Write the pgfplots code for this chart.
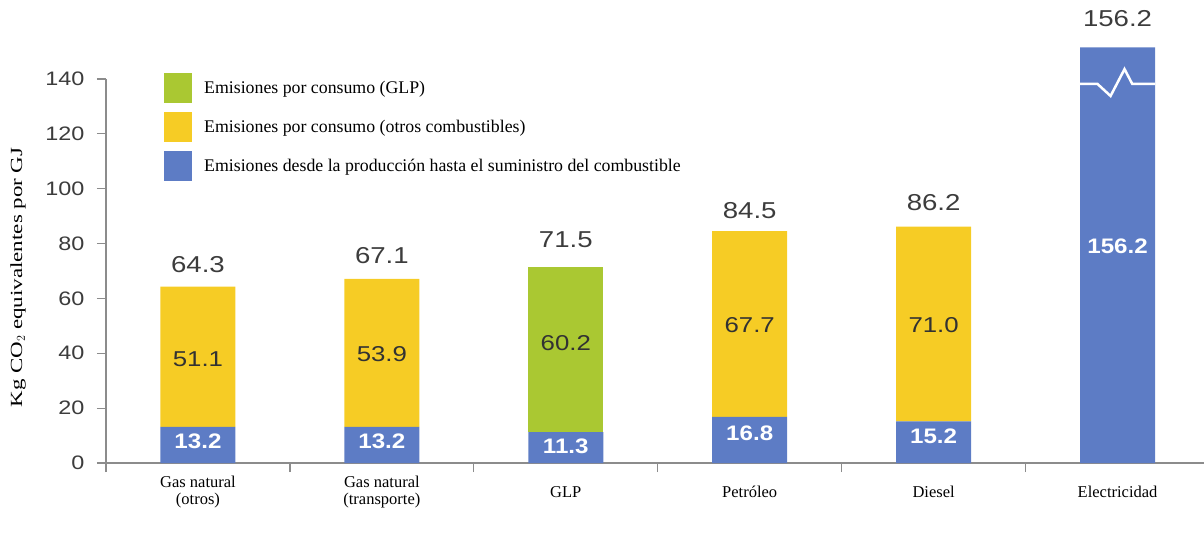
\documentclass[border=0pt]{standalone}
\usepackage{pgfplots}
\pgfplotsset{compat=1.18}
\usepackage{fontspec}
\setmainfont{Liberation Serif}
\newfontfamily\numfont[FakeStretch=1.2]{Liberation Sans}
\newfontfamily\numbold[FakeStretch=1.15]{Liberation Sans Bold}
\newfontfamily\labfont[FakeStretch=1.35]{Liberation Serif}
\definecolor{cblue}{RGB}{93,124,197}
\definecolor{cyellow}{RGB}{246,204,37}
\definecolor{cgreen}{RGB}{170,200,50}
\definecolor{axgray}{RGB}{140,140,140}
\definecolor{txtgray}{RGB}{60,60,60}
\definecolor{intxt}{RGB}{50,50,50}
\tikzset{
  inblue/.style={font=\numbold\fontsize{21}{23}\selectfont, text=white},
  inyel/.style={font=\numfont\fontsize{21.5}{23}\selectfont, text=intxt},
  total/.style={font=\numfont\fontsize{23}{25}\selectfont, text=txtgray},
}
\begin{document}
\begin{tikzpicture}
\useasboundingbox (-106pt,-83pt) rectangle (1098pt,463pt);
\begin{axis}[
  at={(0pt,0pt)}, anchor=south west,
  scale only axis, width=1098pt, height=384pt,
  xmin=-0.5, xmax=5.47, ymin=0, ymax=140,
  clip=false,
  axis x line=bottom, axis y line=left,
  axis line style={-, draw=axgray, line width=1.4pt},
  ybar stacked, bar width=75pt,
  ytick={0,20,...,140}, yticklabels={0,20,40,60,80,100,120,140},
  yticklabel style={font=\numfont\fontsize{19.5}{21}\selectfont, text=txtgray, xshift=-9pt},
  tick align=outside, major tick length=9pt,
  tick style={draw=axgray, line width=1.2pt},
  xtick={-0.5,0.5,1.5,2.5,3.5,4.5}, xticklabels={,,,,,},
  extra x ticks={0,1,2,3,4,5},
  extra x tick labels={{Gas natural\\(otros)},{Gas natural\\(transporte)},GLP,Petróleo,Diesel,Electricidad},
  extra x tick style={tick style={draw=none}},
  xticklabel style={font=\fontsize{16.5}{16.5}\selectfont, align=center, anchor=center, yshift=-20pt},
  every axis y label/.style={at={(axis description cs:-0.080,0.483)}, rotate=90, anchor=center},
  ylabel={\labfont\fontsize{17}{18}\selectfont Kg CO$_2$ equivalentes por GJ},
  reverse legend,
  legend cell align=left,
  legend style={at={(axis description cs:0.0528,1.0156)}, anchor=north west, draw=none, fill=none,
    font=\fontsize{17.8}{19}\selectfont, row sep=9pt, column sep=12pt, inner sep=0pt,
    nodes={inner sep=0pt}},
  legend image code/.code={\fill[#1,draw=none] (0pt,-15pt) rectangle (28pt,15pt);},
]
% Electricity bar (156.2) is drawn truncated at 151.5 with a break mark, as in the original
\addplot[fill=cblue, draw=none] coordinates {(0,13.2) (1,13.2) (2,11.3) (3,16.8) (4,15.2) (5,151.5)};
\addplot[fill=cyellow, draw=none] coordinates {(0,51.1) (1,53.9) (2,0) (3,67.7) (4,71.0) (5,0)};
\addplot[fill=cgreen, draw=none] coordinates {(0,0) (1,0) (2,60.2) (3,0) (4,0) (5,0)};
\legend{Emisiones desde la producción hasta el suministro del combustible, Emisiones por consumo (otros combustibles), Emisiones por consumo (GLP)}

\coordinate (k1) at (axis cs:4.796,138.2);
\coordinate (k2) at (axis cs:4.891,138.2);
\coordinate (k3) at (axis cs:4.962,133.8);
\coordinate (k4) at (axis cs:5.038,143.6);
\coordinate (k5) at (axis cs:5.08,138.2);
\coordinate (k6) at (axis cs:5.204,138.2);
\coordinate (b0) at (axis cs:0,8.0);
\coordinate (b1) at (axis cs:1,8.0);
\coordinate (b2) at (axis cs:2,6.2);
\coordinate (b3) at (axis cs:3,10.9);
\coordinate (b4) at (axis cs:4,9.8);
\coordinate (b5) at (axis cs:5,79.1);
\coordinate (y0) at (axis cs:0,37.9);
\coordinate (y1) at (axis cs:1,39.7);
\coordinate (y2) at (axis cs:2,43.7);
\coordinate (y3) at (axis cs:3,50.3);
\coordinate (y4) at (axis cs:4,50.3);
\coordinate (t0) at (axis cs:0,72.4);
\coordinate (t1) at (axis cs:1,75.8);
\coordinate (t2) at (axis cs:2,81.3);
\coordinate (t3) at (axis cs:3,92.2);
\coordinate (t4) at (axis cs:4,94.8);
\coordinate (t5) at (axis cs:5,162.2);
\end{axis}
\draw[white, line width=2.5pt] (k1) -- (k2) -- (k3) -- (k4) -- (k5) -- (k6);
\node[inblue] at (b0) {13.2};
\node[inblue] at (b1) {13.2};
\node[inblue] at (b2) {11.3};
\node[inblue] at (b3) {16.8};
\node[inblue] at (b4) {15.2};
\node[inblue] at (b5) {156.2};
\node[inyel] at (y0) {51.1};
\node[inyel] at (y1) {53.9};
\node[inyel] at (y2) {60.2};
\node[inyel] at (y3) {67.7};
\node[inyel] at (y4) {71.0};
\node[total] at (t0) {64.3};
\node[total] at (t1) {67.1};
\node[total] at (t2) {71.5};
\node[total] at (t3) {84.5};
\node[total] at (t4) {86.2};
\node[total] at (t5) {156.2};
\end{tikzpicture}
\end{document}
